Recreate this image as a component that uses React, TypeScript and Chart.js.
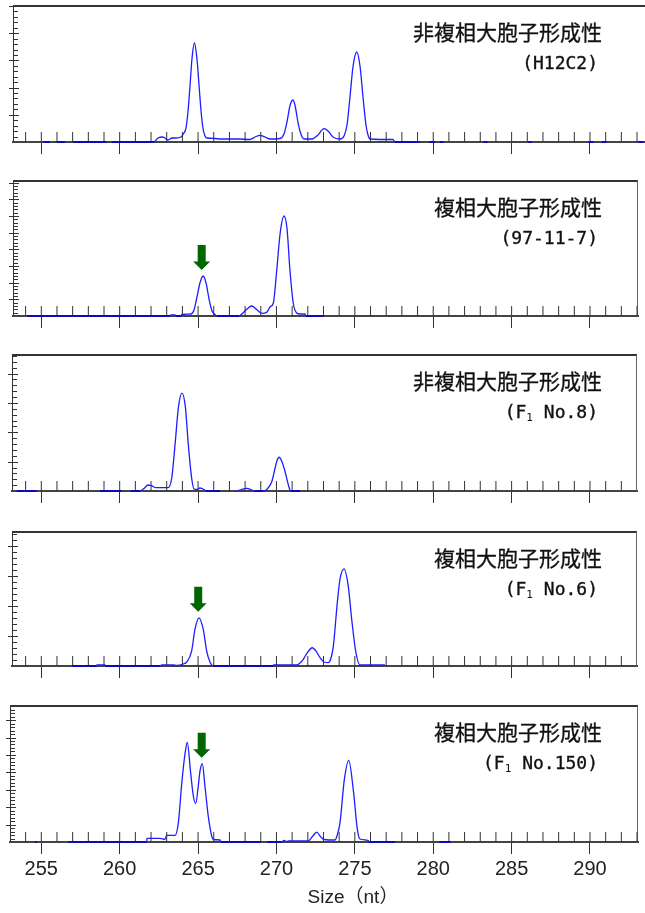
import React, { useEffect, useRef } from 'react';
import { Chart, registerables } from 'chart.js';

Chart.register(...registerables);

// ---------- Data ----------
const xTickValues = [255, 260, 265, 270, 275, 280, 285, 290];
const axisTitle = 'Size（nt）';

const line1Labels = ['非複相大胞子形成性', '複相大胞子形成性', '非複相大胞子形成性', '複相大胞子形成性', '複相大胞子形成性'];
const line2Main = ['(H12C2)', '(97-11-7)', '(F', '(F', '(F'];
const line2Sub = ['', '', '1', '1', '1'];
const line2Tail = ['', '', ' No.8)', ' No.6)', ' No.150)'];

const yMaxima = [5000, 8100, 4630, 4480, 7810];

const arrowSizes = [null, 265.23, null, 265.01, 265.23];
const arrowValues = [null, 2400, null, 1611, 4496];

const p1Size = [255.13, 255.55, 255.8, 255.98, 256.51, 256.8, 257.04, 259.17, 259.3, 259.49,
  262.19, 262.44, 262.76, 263.08, 263.34, 263.59, 263.91, 264.10, 264.23, 264.36,
  264.49, 264.61, 264.77, 264.93, 265.06, 265.19, 265.31, 265.44, 265.57, 266.08,
  266.40, 267.67, 268.31, 268.63, 268.95, 269.27, 269.59, 270.23, 270.48, 270.67,
  270.86, 271.04, 271.18, 271.37, 271.56, 271.76, 272.27, 272.65, 273.03, 273.29,
  273.61, 274.05, 274.31, 274.50, 274.69, 274.88, 275.12, 275.33, 275.52, 275.71,
  275.84, 275.97, 276.60, 277.43, 277.56, 279.16, 279.4, 279.75, 280.11, 280.3,
  280.43, 280.64, 282, 283.19, 283.45, 284, 286.06, 286.28, 288, 289.89,
  290.21, 290.5, 290.75, 291.07, 292, 293.08, 293.40];
const p1Signal = [0, 0, null, 0, 0, null, 0, 0, null, 0,
  0, 147, 184, 74, 147, 147, 184, 331, 515, 1140,
  2095, 3051, 3639, 3051, 2095, 1140, 515, 221, 147, 129,
  110, 110, 92, 184, 246, 184, 110, 129, 294, 735,
  1323, 1544, 1360, 735, 294, 110, 110, 257, 489, 404,
  184, 110, 221, 625, 1654, 2757, 3308, 2794, 1654, 625,
  257, 110, 92, 92, 0, 0, null, 0, 0, null,
  0, 0, null, 0, 0, null, 0, 0, null, 0,
  0, null, 0, 0, null, 0, 0];

const p2Size = [254.09, 263.21, 263.27, 263.53, 263.59, 263.91, 263.97, 264.55, 264.74, 264.93,
  265.12, 265.33, 265.51, 265.70, 265.89, 266.08, 266.21, 267.61, 267.80, 268.12,
  268.42, 268.70, 268.95, 269.16, 269.40, 269.59, 269.80, 270.02, 270.23, 270.48,
  270.67, 270.86, 271.07, 271.29, 271.50, 271.82, 271.88, 273.03];
const p2Signal = [0, 0, 60, 60, 0, 0, 90, 120, 360, 1140,
  1980, 2400, 1980, 1020, 300, 90, 0, 0, 120, 420,
  600, 420, 210, 162, 240, 540, 780, 2760, 4920, 6000,
  5280, 2760, 780, 180, 120, 120, 0, 0];

const p3Size = [253.43, 254.71, 256.7, 258.74, 260.13, 260.4, 260.70, 261.30, 261.55, 261.81,
  262.06, 262.32, 263.10, 263.32, 263.53, 263.75, 263.97, 264.19, 264.38, 264.59,
  264.74, 264.93, 265.12, 265.38, 265.51, 266.40, 267.0, 267.46, 267.67, 268.10,
  268.44, 268.63, 269.16, 269.38, 269.70, 269.91, 270.03, 270.18, 270.33, 270.54,
  270.76, 270.86, 270.93, 271.50];
const p3Signal = [0, 0, null, 0, 0, null, 0, 0, 85, 205,
  171, 113, 113, 443, 1569, 2864, 3332, 2864, 1569, 443,
  68, 51, 102, 51, 0, 0, null, 0, 34, 92,
  34, 0, 0, 51, 317, 774, 1023, 1149, 1023, 682,
  205, 34, 0, 0];

const p4Size = [256.94, 258.53, 258.55, 259.06, 259.08, 262.57, 262.68, 263.42, 263.64, 264.06,
  264.27, 264.59, 264.80, 265.06, 265.33, 265.55, 265.76, 265.97, 269.80, 269.81,
  271.29, 271.50, 271.71, 271.95, 272.29, 272.52, 272.78, 273.03, 273.31, 273.48,
  273.63, 273.88, 274.05, 274.31, 274.58, 274.80, 275.07, 275.33, 276.92];
const p4Signal = [0, 0, 33, 33, 0, 0, 33, 33, 17, 67,
  133, 500, 1224, 1611, 1224, 500, 133, 0, 0, 33,
  33, 100, 224, 434, 610, 500, 277, 133, 110, 267,
  667, 2112, 2892, 3246, 2669, 1558, 444, 33, 33];

const p5Size = [254.60, 254.74, 255.5, 256.72, 261.72, 261.74, 262.57, 262.89, 263.00, 263.53,
  263.74, 263.96, 264.17, 264.31, 264.53, 264.70, 264.85, 265.01, 265.12, 265.27,
  265.44, 265.65, 265.87, 265.97, 266.40, 266.46, 268.99, 269.2, 269.42, 270.33,
  270.48, 270.65, 270.76, 272.03, 272.27, 272.57, 272.78, 273.03, 273.73, 273.86,
  274.05, 274.33, 274.61, 274.90, 275.16, 275.33, 275.86, 275.90, 277.56, 279,
  280.39, 281.11];
const p5Signal = [0, 0, null, 0, 0, 211, 211, 154, 383, 383,
  1085, 3371, 5085, 5713, 3942, 2628, 2211, 3199, 4056, 4496,
  3199, 1485, 343, 143, 114, 0, 0, null, 0, 0,
  86, 29, 57, 57, 286, 571, 343, 143, 114, 343,
  1085, 3582, 4685, 3011, 726, 171, 86, 0, 0, null,
  0, 0];

const panelSizes = [p1Size, p2Size, p3Size, p4Size, p5Size];
const panelSignals = [p1Signal, p2Signal, p3Signal, p4Signal, p5Signal];

// ---------- Layout / style ----------
const W = 645;
const H = 913;
const PAD_TOP = 6;
const PANEL_TOP = [6, 181, 355, 532, 706];
const PANEL_BOTTOM = [142, 316, 491, 666, 842];
const PANEL_LEFT = [13, 13, 12, 12, 10];
const PANEL_RIGHT = [645, 638, 637, 637, 638];
const RIGHT_BORDER = [false, true, true, true, true];
const PX_PER_NT = 15.677;
const X255_PX = 41.3;
const TRACE = 'rgb(30,30,255)';
const BASELINE_TRACE = '#0a0ab8';
const INK = '#333';
const ARROW = '#006600';

const axisHeight = (i: number) => (i === 4 ? H - PANEL_BOTTOM[4] : 14);

const decorPlugin = {
  id: 'decor',
  beforeDatasetsDraw(chart: any, _a: any, opts: any) {
    const i = opts.index as number;
    const { ctx, chartArea } = chart;
    const { left, right, top, bottom } = chartArea;
    const x = chart.scales.x;
    const y = chart.scales.y;
    ctx.save();
    // top border
    ctx.strokeStyle = INK;
    ctx.lineWidth = 2;
    ctx.beginPath();
    ctx.moveTo(left, top);
    ctx.lineTo(right, top);
    ctx.stroke();
    // right border
    if (RIGHT_BORDER[i]) {
      ctx.strokeStyle = '#666';
      ctx.lineWidth = 1;
      ctx.beginPath();
      ctx.moveTo(right - 0.5, top);
      ctx.lineTo(right - 0.5, bottom);
      ctx.stroke();
    }
    // left axis line
    ctx.strokeStyle = INK;
    ctx.lineWidth = 1;
    ctx.beginPath();
    ctx.moveTo(left + 0.5, top);
    ctx.lineTo(left + 0.5, bottom);
    ctx.stroke();
    // y ticks
    const yMax = yMaxima[i];
    ctx.beginPath();
    for (let v = 200; v <= yMax; v += 200) {
      const py = Math.round(y.getPixelForValue(v)) + 0.5;
      if (v % 1000 === 0) {
        ctx.moveTo(left - 4, py);
        ctx.lineTo(left + 6, py);
      } else {
        ctx.moveTo(left, py);
        ctx.lineTo(left + 5, py);
      }
    }
    ctx.stroke();
    // x minor ticks (upward)
    ctx.beginPath();
    for (let n = Math.ceil(x.min); n <= Math.floor(x.max); n++) {
      const px = x.getPixelForValue(n);
      ctx.moveTo(px, bottom);
      ctx.lineTo(px, bottom - 10);
    }
    ctx.stroke();
    ctx.restore();
  },
  afterDatasetsDraw(chart: any, _a: any, opts: any) {
    const i = opts.index as number;
    const { ctx, chartArea } = chart;
    const { top, bottom } = chartArea;
    const x = chart.scales.x;
    const y = chart.scales.y;
    ctx.save();
    // arrow
    const as = arrowSizes[i];
    const av = arrowValues[i];
    if (as !== null && av !== null) {
      const cx = x.getPixelForValue(as);
      const tip = y.getPixelForValue(av) - 6;
      ctx.fillStyle = ARROW;
      ctx.beginPath();
      ctx.moveTo(cx - 4, tip - 25);
      ctx.lineTo(cx + 4, tip - 25);
      ctx.lineTo(cx + 4, tip - 8.5);
      ctx.lineTo(cx + 8.5, tip - 8.5);
      ctx.lineTo(cx, tip);
      ctx.lineTo(cx - 8.5, tip - 8.5);
      ctx.lineTo(cx - 4, tip - 8.5);
      ctx.closePath();
      ctx.fill();
    }
    // labels
    ctx.fillStyle = '#111';
    ctx.strokeStyle = '#111';
    ctx.lineWidth = 0.3;
    ctx.textBaseline = 'middle';
    ctx.textAlign = 'left';
    ctx.font = '21px "Noto Sans CJK JP", sans-serif';
    const l1 = line1Labels[i];
    const w1 = ctx.measureText(l1).width;
    ctx.fillText(l1, 602 - w1, top + 26);
    ctx.strokeText(l1, 602 - w1, top + 26);
    const mainFont = '18px "DejaVu Sans Mono", monospace';
    const subFont = '11px "DejaVu Sans Mono", monospace';
    ctx.font = mainFont;
    const wa = ctx.measureText(line2Main[i]).width;
    const wc = ctx.measureText(line2Tail[i]).width;
    ctx.font = subFont;
    const wb = line2Sub[i] ? ctx.measureText(line2Sub[i]).width : 0;
    let sx = 598 - (wa + wb + wc);
    const ly = top + 58;
    ctx.lineWidth = 0.35;
    ctx.font = mainFont;
    ctx.fillText(line2Main[i], sx, ly);
    ctx.strokeText(line2Main[i], sx, ly);
    sx += wa;
    if (line2Sub[i]) {
      ctx.font = subFont;
      ctx.fillText(line2Sub[i], sx, ly + 5);
      sx += wb;
      ctx.font = mainFont;
      ctx.fillText(line2Tail[i], sx, ly);
      ctx.strokeText(line2Tail[i], sx, ly);
    }
    // axis title (bottom panel only)
    if (i === 4) {
      ctx.font = '19px "Liberation Sans", "Noto Sans CJK JP", sans-serif';
      ctx.textAlign = 'center';
      ctx.fillStyle = '#222';
      ctx.fillText(axisTitle, 353, bottom + 56);
    }
    ctx.restore();
  },
};

const onBaseline = (c: any) => c.p0.parsed.y === 0 && c.p1.parsed.y === 0;

function buildConfig(i: number): any {
  const left = PANEL_LEFT[i];
  const right = PANEL_RIGHT[i];
  const xMin = 255 - (X255_PX - left) / PX_PER_NT;
  const xMax = 255 + (right - X255_PX) / PX_PER_NT;
  const sizes = panelSizes[i];
  const sig = panelSignals[i];
  const last = i === 4;
  return {
    type: 'line',
    data: {
      datasets: [
        {
          data: sizes.map((s, k) => ({ x: s, y: sig[k] })),
          borderColor: TRACE,
          borderWidth: 1.3,
          pointRadius: 0,
          fill: false,
          spanGaps: false,
          clip: false,
          cubicInterpolationMode: 'monotone',
          segment: {
            borderColor: (c: any) => (onBaseline(c) ? BASELINE_TRACE : undefined),
            borderWidth: (c: any) => (onBaseline(c) ? 2 : undefined),
          },
        },
      ],
    },
    options: {
      responsive: false,
      animation: false,
      events: [],
      layout: { padding: { left, right: W - right, top: PAD_TOP, bottom: 0 } },
      plugins: {
        legend: { display: false },
        tooltip: { enabled: false },
        decor: { index: i },
      },
      scales: {
        x: {
          type: 'linear',
          min: xMin,
          max: xMax,
          border: { display: true, color: '#444', width: 2, z: -1 },
          grid: { display: true, drawOnChartArea: false, drawTicks: true, tickLength: 12, tickColor: INK, tickWidth: 1, z: -1 },
          afterBuildTicks: (scale: any) => {
            scale.ticks = xTickValues.map((v) => ({ value: v }));
          },
          ticks: {
            display: last,
            autoSkip: false,
            includeBounds: false,
            maxRotation: 0,
            padding: 3,
            color: '#222',
            font: { family: '"Liberation Sans", Arial, sans-serif', size: 20 },
            callback: (v: any) => String(v),
          },
          afterFit: (scale: any) => {
            scale.height = axisHeight(i);
          },
        },
        y: { type: 'linear', display: false, min: 0, max: yMaxima[i] },
      },
    },
    plugins: [decorPlugin],
  };
}

function Panel({ index }: { index: number }) {
  const ref = useRef<HTMLCanvasElement>(null);
  useEffect(() => {
    const chart = new Chart(ref.current as HTMLCanvasElement, buildConfig(index));
    return () => chart.destroy();
  }, [index]);
  const h = PAD_TOP + (PANEL_BOTTOM[index] - PANEL_TOP[index]) + axisHeight(index);
  return (
    <canvas
      ref={ref}
      width={W}
      height={h}
      style={{ position: 'absolute', left: 0, top: PANEL_TOP[index] - PAD_TOP, display: 'block' }}
    />
  );
}

export default function App() {
  return (
    <div style={{ position: 'absolute', left: 0, top: 0, width: W, height: H, overflow: 'hidden', background: '#fff' }}>
      {[0, 1, 2, 3, 4].map((i) => (
        <Panel key={i} index={i} />
      ))}
    </div>
  );
}
